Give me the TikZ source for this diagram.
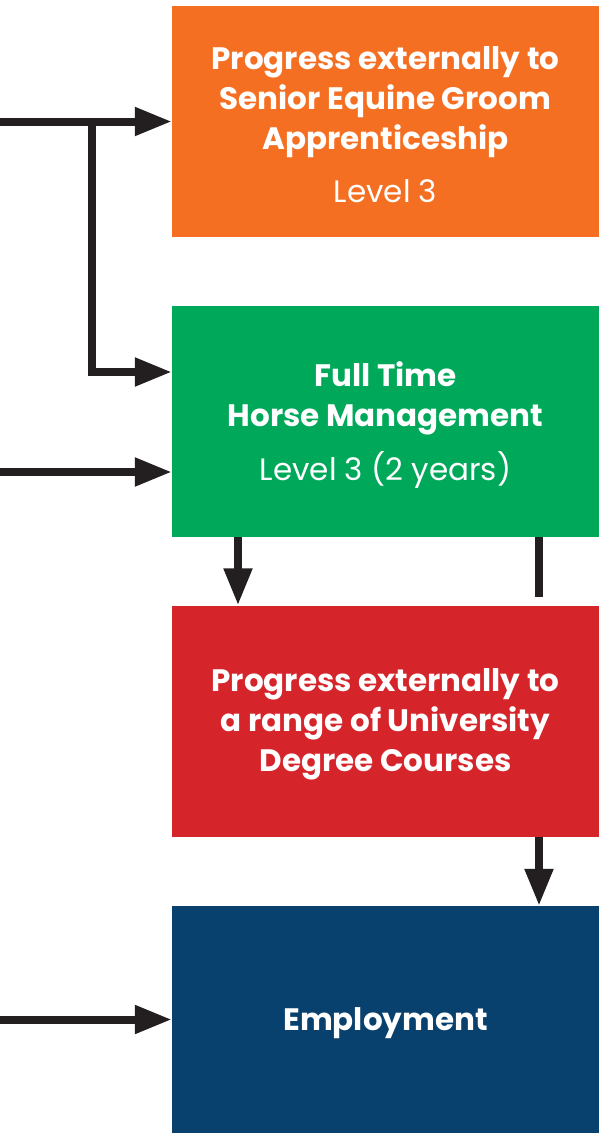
\documentclass[tikz,border=0pt]{standalone}
\usepackage{fontspec}
\setmainfont{Poppins}
\usetikzlibrary{arrows.meta}
\definecolor{boxorange}{HTML}{F56F23}
\definecolor{boxgreen}{HTML}{00A859}
\definecolor{boxred}{HTML}{D6242B}
\definecolor{boxblue}{HTML}{08406E}
\definecolor{linedark}{HTML}{231F20}
\begin{document}
\begin{tikzpicture}[x=1pt,y=-1pt,
  box/.style={rectangle, minimum width=427pt, minimum height=231pt, inner sep=0pt},
  boxtext/.style={inner sep=0pt, text=white, align=center,
    font=\fontsize{31}{40}\selectfont\bfseries},
  conn/.style={draw=linedark, line width=8pt, -{Triangle[length=37pt,width=27pt]}},
  plainline/.style={draw=linedark, line width=8pt}]
\useasboundingbox (0,0) rectangle (599,1133);
\fill[white] (0,0) rectangle (599,1133);
\node[box, fill=boxorange] (orange) at (385.5,121.5) {};
\node[box, fill=boxgreen] (green) at (385.5,421.5) {};
\node[box, fill=boxred] (red) at (385.5,721) {};
\node[box, fill=boxblue, minimum height=227pt] (blue) at (385.5,1019.5) {};
\node[boxtext] (orangetext) at ([yshift=-3pt]orange.center)
  {Progress externally to\\Senior Equine Groom\\Apprenticeship\\[13pt]{\mdseries Level 3}};
\node[boxtext] (greentext) at ([yshift=-4pt]green.center)
  {Full Time\\Horse Management\\[14pt]{\mdseries Level 3 (2 years)}};
\node[boxtext] (redtext) at ([yshift=-3pt]red.center)
  {Progress externally to\\a range of University\\Degree Courses};
\node[boxtext] (bluetext) at ([yshift=-4pt]blue.center)
  {Employment};
\coordinate (in1) at (0,121.5);
\coordinate (br) at (92,121.5);
\coordinate (in2) at (0,472);
\coordinate (in3) at (0,1019.5);
\draw[conn] (in1) -- (orange.west);
\draw[conn] (br) |- ([yshift=49.5pt]green.west);
\draw[conn] (in2) -- (in2 -| green.west);
\draw[conn] ([xshift=-147.5pt]green.south) -- ([xshift=-147.5pt]red.north);
\draw[plainline] ([xshift=153.5pt]green.south) -- ++(0,60);
\draw[conn] ([xshift=153.5pt]red.south) -- ([xshift=153.5pt]blue.north);
\draw[conn] (in3) -- (blue.west);
\end{tikzpicture}
\end{document}
